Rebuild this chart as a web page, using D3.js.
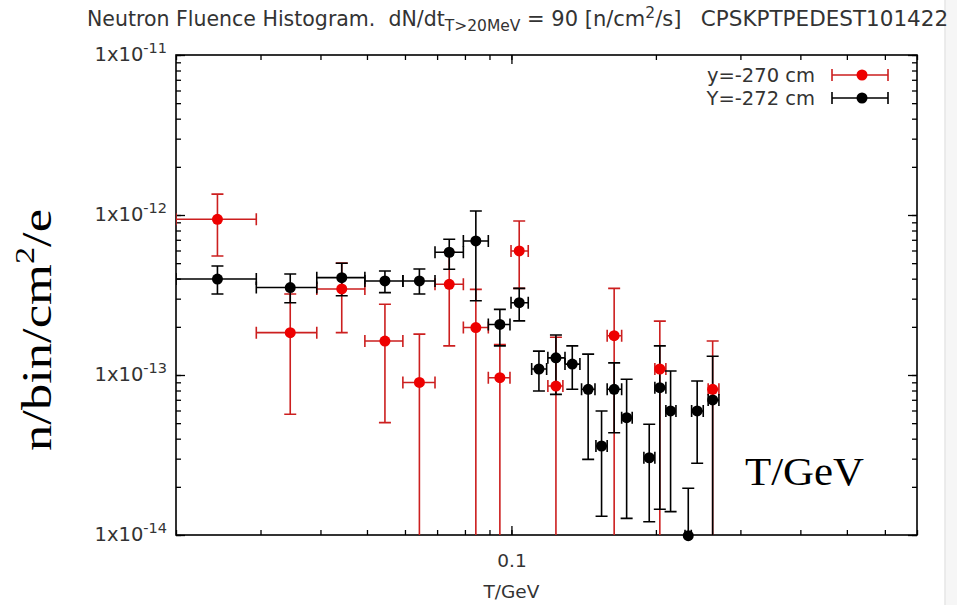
<!DOCTYPE html>
<html lang="en">
<head>
<meta charset="utf-8">
<title>Neutron Fluence Histogram</title>
<script src="https://d3js.org/d3.v7.min.js"></script>
<style>
    body { margin: 0; background: #fff; }
    text { white-space: pre; }
</style>
</head>
<body>
<svg width="957" height="605" id="mainsvg"></svg>
<script>
    // y = -270 cm (red)
    const redX   = [0.0244, 0.0346, 0.0443, 0.0545, 0.0643, 0.0742, 0.0843, 0.0946, 0.1038, 0.1238, 0.1637, 0.2038, 0.2626];
    const redXLo = [0.0200, 0.0294, 0.0393, 0.0495, 0.0594, 0.0693, 0.0794, 0.0895, 0.0998, 0.1191, 0.1583, 0.1990, 0.2570];
    const redXHi = [0.0294, 0.0393, 0.0495, 0.0594, 0.0693, 0.0794, 0.0895, 0.0993, 0.1084, 0.1280, 0.1697, 0.2098, 0.2706];
    const redY   = [9.4e-13, 1.84e-13, 3.45e-13, 1.63e-13, 8.98e-14, 3.69e-13, 1.98e-13, 9.62e-14, 5.96e-13, 8.53e-14, 1.76e-13, 1.09e-13, 8.14e-14];
    const redYLo = [5.54e-13, 5.68e-14, 1.84e-13, 5.04e-14, 1e-15, 1.52e-13, 1e-15, 1e-15, 3.48e-13, 1e-15, 1e-15, 1e-15, 1e-15];
    const redYHi = [1.35e-12, 3.21e-13, 5.01e-13, 2.77e-13, 1.80e-13, 5.86e-13, 3.43e-13, 1.55e-13, 9.17e-13, 1.72e-13, 3.48e-13, 2.17e-13, 1.63e-13];

    // Y = -272 cm (black)
    const blackX   = [0.0244, 0.0346, 0.0443, 0.0545, 0.0643, 0.0742, 0.0843, 0.0946, 0.1038, 0.1141, 0.1238, 0.1339, 0.1445, 0.1541, 0.1637, 0.1738, 0.1937, 0.2038, 0.2146, 0.2336, 0.2438, 0.2626];
    const blackXLo = [0.0200, 0.0294, 0.0393, 0.0495, 0.0594, 0.0693, 0.0794, 0.0895, 0.0998, 0.1102, 0.1191, 0.1293, 0.1400, 0.1500, 0.1583, 0.1697, 0.1888, 0.1990, 0.2098, 0.2300, 0.2374, 0.2570];
    const blackXHi = [0.0294, 0.0393, 0.0495, 0.0594, 0.0693, 0.0794, 0.0895, 0.0993, 0.1084, 0.1184, 0.1293, 0.1389, 0.1493, 0.1583, 0.1697, 0.1785, 0.1990, 0.2098, 0.2202, 0.2370, 0.2510, 0.2706];
    const blackY   = [3.98e-13, 3.52e-13, 4.06e-13, 3.87e-13, 3.87e-13, 5.85e-13, 6.88e-13, 2.07e-13, 2.83e-13, 1.09e-13, 1.28e-13, 1.17e-13, 8.14e-14, 3.6e-14, 8.14e-14, 5.41e-14, 3.04e-14, 8.33e-14, 5.96e-14, 9.9e-15, 5.96e-14, 6.98e-14];
    const blackYLo = [3.21e-13, 2.83e-13, 3.13e-13, 3.27e-13, 3.21e-13, 4.58e-13, 2.91e-13, 1.52e-13, 2.18e-13, 7.94e-14, 7.57e-14, 8.14e-14, 2.97e-14, 1.31e-14, 4.36e-14, 1.27e-14, 1.21e-14, 1.45e-14, 1.40e-14, 1e-15, 2.81e-14, 1e-15];
    const blackYHi = [4.80e-13, 4.28e-13, 4.99e-13, 4.47e-13, 4.60e-13, 7.05e-13, 1.06e-12, 2.57e-13, 3.48e-13, 1.41e-13, 1.78e-13, 1.52e-13, 1.35e-13, 5.96e-14, 1.19e-13, 9.4e-14, 4.92e-14, 1.52e-13, 1.06e-13, 1.96e-14, 9.17e-14, 1.31e-13];

    const xDomain = [0.02, 0.7];
    const yDomain = [1e-14, 1e-11];
    const xTickLabels = ['0.1'];
    const seriesNames = ['y=-270 cm', 'Y=-272 cm'];

    const svg = d3.select('#mainsvg');
    const plot = { left: 176, right: 917, top: 55, bottom: 535 };
    const sansFont = '"DejaVu Sans", sans-serif';
    const serifFont = '"Liberation Serif", serif';
    const textColor = '#333';

    const x = d3.scaleLog().domain(xDomain).range([plot.left, plot.right]);
    const y = d3.scaleLog().domain(yDomain).range([plot.bottom, plot.top]);

    const isMajor = v => Math.abs(Math.log10(v) - Math.round(Math.log10(v))) < 1e-6;

    // faint page edge on the right
    svg.append('rect').attr('x', 945).attr('y', 0).attr('width', 12).attr('height', 605).attr('fill', '#f6f6f6');
    svg.append('line').attr('x1', 945).attr('x2', 945).attr('y1', 0).attr('y2', 605)
        .attr('stroke', '#e6e6e6').attr('stroke-width', 1.5);

    // title
    const title = svg.append('text')
        .attr('x', 87).attr('y', 26)
        .attr('font-family', sansFont)
        .attr('font-size', 20.5).attr('fill', textColor);
    title.append('tspan').text('Neutron Fluence Histogram.  dN/dt');
    title.append('tspan').attr('dy', 5).attr('font-size', 15.5).text('T>20MeV');
    title.append('tspan').attr('dy', -5).attr('font-size', 21).text(' = 90 [n/cm');
    title.append('tspan').attr('dy', -8).attr('font-size', 15.5).text('2');
    title.append('tspan').attr('dy', 8).attr('font-size', 21).text('/s]  ');
    title.append('tspan').attr('dx', 6).attr('font-size', 21.5).text('CPSKPTPEDEST101422');

    // axes: minor + major ticks on all four sides, pointing inward
    const xAll = x.ticks();
    const yAll = y.ticks();
    const yMajor = yAll.filter(isMajor);
    const xMajor = xAll.filter(isMajor);

    const addAxis = (axis, tx, ty) => {
        const g = svg.append('g').attr('transform', `translate(${tx},${ty})`).call(axis);
        g.select('.domain').remove();
        g.selectAll('.tick line').attr('stroke', '#000').attr('stroke-width', 1.3);
        return g;
    };

    addAxis(d3.axisBottom(x).tickValues(xAll).tickSizeInner(-5).tickSizeOuter(0).tickFormat(''), 0, plot.bottom);
    addAxis(d3.axisTop(x).tickValues(xAll).tickSizeInner(-5).tickSizeOuter(0).tickFormat(''), 0, plot.top);
    addAxis(d3.axisLeft(y).tickValues(yAll).tickSizeInner(-5).tickSizeOuter(0).tickFormat(''), plot.left, 0);
    addAxis(d3.axisRight(y).tickValues(yAll).tickSizeInner(-5).tickSizeOuter(0).tickFormat(''), plot.right, 0);

    const xMajorG = addAxis(d3.axisBottom(x).tickValues(xMajor).tickSizeInner(-9).tickSizeOuter(0).tickPadding(19)
        .tickFormat((d, i) => xTickLabels[i]), 0, plot.bottom);
    addAxis(d3.axisTop(x).tickValues(xMajor).tickSizeInner(-9).tickSizeOuter(0).tickFormat(''), 0, plot.top);
    const yMajorG = addAxis(d3.axisLeft(y).tickValues(yMajor).tickSizeInner(-9).tickSizeOuter(0)
        .tickFormat(d => d), plot.left, 0);
    addAxis(d3.axisRight(y).tickValues(yMajor).tickSizeInner(-9).tickSizeOuter(0).tickFormat(''), plot.right, 0);

    xMajorG.selectAll('.tick text')
        .attr('font-family', sansFont)
        .attr('font-size', 18.5).attr('fill', textColor);

    yMajorG.selectAll('.tick text').each(function (d) {
        const t = d3.select(this)
            .attr('font-family', sansFont)
            .attr('font-size', 19.5).attr('fill', textColor)
            .attr('x', -9).attr('dy', '0.3em');
        t.text('');
        t.append('tspan').text('1x10');
        t.append('tspan').attr('dy', -8).attr('font-size', 14.5).text(String(Math.round(Math.log10(d))));
    });

    // frame
    svg.append('rect')
        .attr('x', plot.left).attr('y', plot.top)
        .attr('width', plot.right - plot.left).attr('height', plot.bottom - plot.top)
        .attr('fill', 'none').attr('stroke', '#000').attr('stroke-width', 1.6);

    // x axis title
    svg.append('text')
        .attr('x', x(0.1)).attr('y', 598).attr('text-anchor', 'middle')
        .attr('font-family', sansFont)
        .attr('font-size', 18.5).attr('fill', textColor)
        .text('T/GeV');

    // data
    svg.append('clipPath').attr('id', 'plotclip')
        .append('rect').attr('x', plot.left).attr('y', plot.top)
        .attr('width', plot.right - plot.left).attr('height', plot.bottom - plot.top);

    const makeRows = (xs, xlo, xhi, ys, ylo, yhi) =>
        xs.map((v, i) => ({ x: v, xlo: xlo[i], xhi: xhi[i], y: ys[i], ylo: ylo[i], yhi: yhi[i] }));

    const redRows = makeRows(redX, redXLo, redXHi, redY, redYLo, redYHi);
    const blackRows = makeRows(blackX, blackXLo, blackXHi, blackY, blackYLo, blackYHi);

    const cap = 6;
    const drawBars = function (rows, color) {
        const g = svg.append('g').attr('clip-path', 'url(#plotclip)')
            .attr('stroke', color).attr('stroke-width', 1.6).attr('fill', 'none');
        g.selectAll('path').data(rows).enter().append('path')
            .attr('d', d => {
                const cx = x(d.x), cy = y(d.y);
                const x0 = x(d.xlo), x1 = x(d.xhi), y0 = y(d.ylo), y1 = y(d.yhi);
                return `M${x0},${cy}H${x1}` +
                    `M${x0},${cy - cap}V${cy + cap}M${x1},${cy - cap}V${cy + cap}` +
                    `M${cx},${y0}V${y1}` +
                    `M${cx - cap},${y0}H${cx + cap}M${cx - cap},${y1}H${cx + cap}`;
            });
    };
    const drawMarks = function (rows, color) {
        svg.append('g').selectAll('circle').data(rows).enter().append('circle')
            .attr('cx', d => x(d.x)).attr('cy', d => y(d.y))
            .attr('r', 5.5).attr('fill', color);
    };

    drawBars(redRows, '#cc1f1f');
    drawBars(blackRows, '#000');
    drawMarks(blackRows, '#000');
    drawMarks(redRows, '#ee0000');

    // legend
    const legend = svg.append('g');
    seriesNames.forEach((name, i) => {
        const ly = 75 + i * 23;
        const col = i === 0 ? '#cc1f1f' : '#000';
        legend.append('text')
            .attr('x', 815).attr('y', ly).attr('dy', '0.35em').attr('text-anchor', 'end')
            .attr('font-family', sansFont).attr('font-size', 19.5)
            .attr('fill', textColor).text(name);
        legend.append('path')
            .attr('d', `M832,${ly}H888M832,${ly - cap}V${ly + cap}M888,${ly - cap}V${ly + cap}`)
            .attr('stroke', col).attr('stroke-width', 1.6).attr('fill', 'none');
        legend.append('circle').attr('cx', 862).attr('cy', ly).attr('r', 5.5)
            .attr('fill', i === 0 ? '#ee0000' : '#000');
    });

    // big overlay labels (wider serif face in the original, so stretch to its length)
    const yLabel = svg.append('text')
        .attr('transform', 'translate(51,330) rotate(-90)')
        .attr('text-anchor', 'middle')
        .attr('textLength', 242).attr('lengthAdjust', 'spacingAndGlyphs')
        .attr('font-family', serifFont).attr('font-size', 43).attr('fill', '#000');
    yLabel.append('tspan').text('n/bin/cm');
    yLabel.append('tspan').attr('dy', -17).attr('font-size', 28).text('2');
    yLabel.append('tspan').attr('dy', 17).text('/e');

    svg.append('text')
        .attr('x', 745).attr('y', 485)
        .attr('textLength', 119).attr('lengthAdjust', 'spacingAndGlyphs')
        .attr('font-family', serifFont).attr('font-size', 40).attr('fill', '#000')
        .text('T/GeV');
</script>
</body>
</html>
